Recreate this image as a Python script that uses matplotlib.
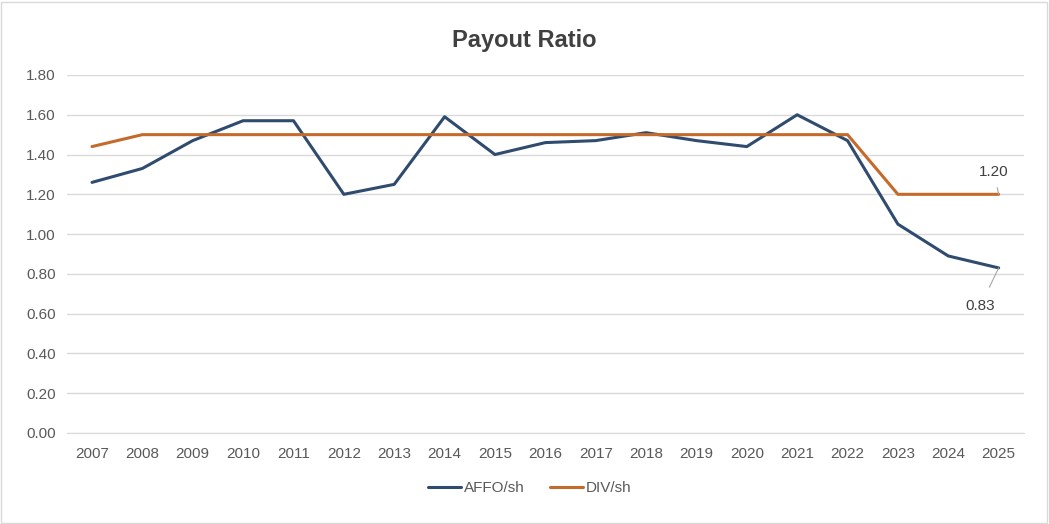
import matplotlib.pyplot as plt
from matplotlib.patches import Rectangle

years = [str(y) for y in range(2007, 2026)]
affo_sh = [1.26, 1.33, 1.47, 1.57, 1.57, 1.20, 1.25, 1.59, 1.40, 1.46,
           1.47, 1.51, 1.47, 1.44, 1.60, 1.47, 1.05, 0.89, 0.83]
div_sh = [1.44, 1.50, 1.50, 1.50, 1.50, 1.50, 1.50, 1.50, 1.50, 1.50,
          1.50, 1.50, 1.50, 1.50, 1.50, 1.50, 1.20, 1.20, 1.20]
y_ticks = [0.0, 0.2, 0.4, 0.6, 0.8, 1.0, 1.2, 1.4, 1.6, 1.8]

plt.rcParams["font.family"] = ["Liberation Sans", "DejaVu Sans"]
text_color = "#595959"
grid_color = "#d9d9d9"

fig = plt.figure(figsize=(10.49, 5.24), dpi=100)
ax = fig.add_axes([0.0637, 0.1737, 0.9123, 0.6832])

x = list(range(len(years)))
ax.plot(x, affo_sh, color="#2f4b6e", lw=2.2, label="AFFO/sh", solid_capstyle="round")
ax.plot(x, div_sh, color="#c46a2b", lw=2.2, label="DIV/sh", solid_capstyle="round")

ax.set_xlim(-0.5, len(years) - 0.5)
ax.set_ylim(0, 1.8)
ax.set_xticks(x)
ax.set_xticklabels(years)
ax.set_yticks(y_ticks)
ax.set_yticklabels([f"{v:.2f}" for v in y_ticks])
ax.tick_params(axis="both", length=0, labelsize=11, colors=text_color)
ax.tick_params(axis="x", pad=10)
ax.tick_params(axis="y", pad=8)
ax.grid(axis="y", color=grid_color, lw=1)
ax.set_axisbelow(True)
for side in ["top", "right", "left"]:
    ax.spines[side].set_visible(False)
ax.spines["bottom"].set_color(grid_color)

# end-point data labels with leader lines
last = len(years) - 1
ax.annotate(f"{div_sh[-1]:.2f}", xy=(last, div_sh[-1]), xytext=(last - 0.09, div_sh[-1] + 0.11),
            ha="center", va="center", fontsize=11, color="#404040",
            arrowprops=dict(arrowstyle="-", color="#a6a6a6", lw=0.8, shrinkA=4, shrinkB=0))
ax.annotate(f"{affo_sh[-1]:.2f}", xy=(last, affo_sh[-1]), xytext=(last - 0.36, affo_sh[-1] - 0.19),
            ha="center", va="center", fontsize=11, color="#404040",
            arrowprops=dict(arrowstyle="-", color="#a6a6a6", lw=0.8, shrinkA=7, shrinkB=0))

fig.suptitle("Payout Ratio", x=0.5, y=0.945, fontsize=17, fontweight="bold", color="#404040")
fig.legend(loc="center", bbox_to_anchor=(0.505, 0.068), ncol=2, frameon=False,
           fontsize=11, labelcolor=text_color, handlelength=2.2, handletextpad=0.2,
           columnspacing=1.6)

fig.patches.append(Rectangle((0.001, 0.002), 0.997, 0.995, transform=fig.transFigure,
                             fill=False, edgecolor=grid_color, lw=1))

fig.savefig("out.png", dpi=100)
